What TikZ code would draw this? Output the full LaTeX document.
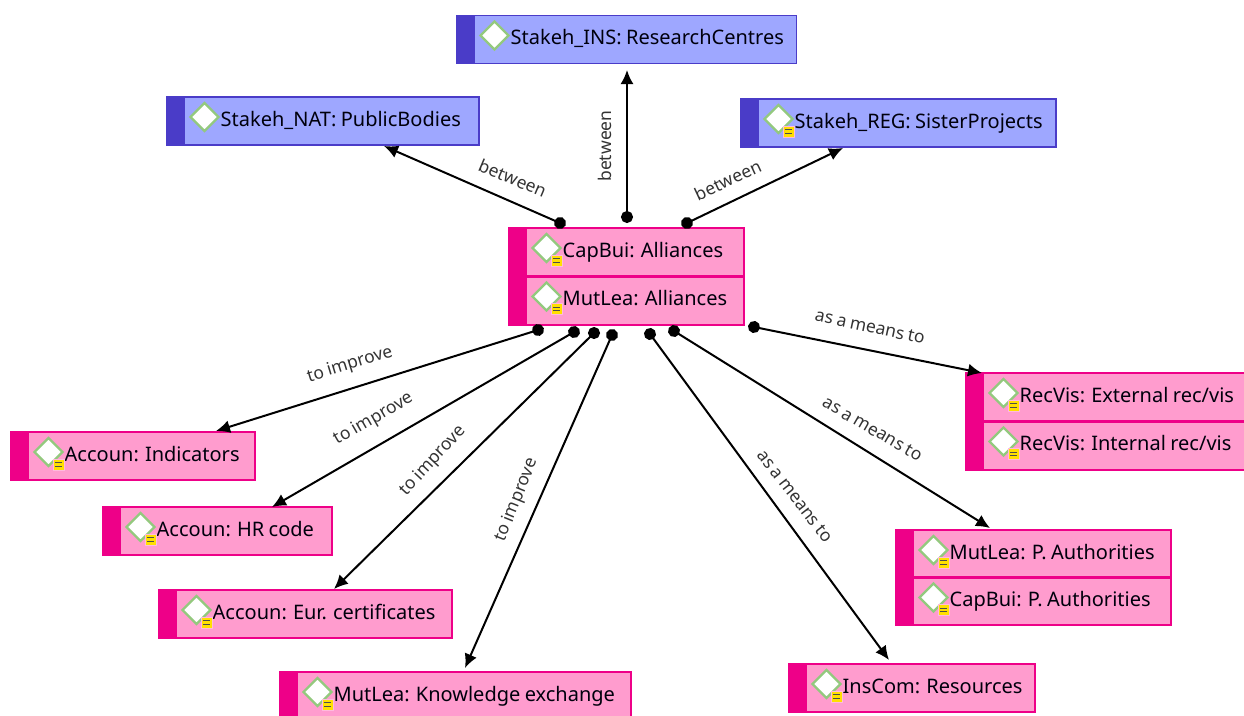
\documentclass[tikz,border=0pt]{standalone}
\usepackage{fontspec}
\setmainfont[WordSpace=0.85]{Noto Sans}
\usetikzlibrary{arrows.meta,shapes.geometric}
\definecolor{pinkfill}{HTML}{FF9CCE}
\definecolor{pinkbar}{HTML}{EE0088}
\definecolor{bluefill}{HTML}{9EA7FF}
\definecolor{bluebar}{HTML}{4A3CC8}
\definecolor{notey}{HTML}{FFE000}
\definecolor{greenb}{HTML}{93C97E}
\definecolor{lab}{HTML}{333333}
\tikzset{
  bodybox/.style={draw=#1bar,fill=#1fill,line width=1.8pt,rectangle,inner sep=0pt,outer sep=0pt,anchor=north west},
  barbox/.style={fill=#1bar,rectangle,inner sep=0pt,outer sep=0pt,anchor=north west},
  rowtext/.style={anchor=base west,inner sep=0pt,font=\fontsize{20}{24}\selectfont,text=black!95!blue},
  gem/.style={diamond,draw=greenb,fill=white,line width=2.4pt,minimum width=29pt,minimum height=29pt,inner sep=0pt,aspect=1},
  notebox/.style={fill=notey,draw=pinkfill!70!white,line width=.8pt,minimum size=11pt,inner sep=0pt},
  link/.style={draw=black,line width=2pt,{Circle[length=12pt,width=12pt]}-{Latex[length=14pt,width=13pt]},shorten <=-6pt},
  lbl/.style={font=\fontsize{17.5}{20}\selectfont,text=lab,inner sep=0pt},
  rowrule/.style={line width=3pt,draw=pinkbar},
}
% \rowbox{name}{bar x}{top}{right}{bottom}{colour}{text}
\newcommand{\rowbox}[7]{%
  \pgfmathsetlengthmacro{\ww}{(#4-#2)*1pt}%
  \pgfmathsetlengthmacro{\hh}{(#5-#3)*1pt}%
  \node[bodybox=#6,minimum width=\ww,minimum height=\hh] (#1) at (#2,#3) {};
  \node[gem] (#1gem) at (#2+20.5,#3+20) {};
  \node[rowtext] (#1txt) at (#2+36.5,#3+29) {#7};
}
\newcommand{\notemark}[1]{%
  \node[notebox] (#1note) at ([shift={(10,12.5)}]#1gem.center) {};
  \draw[black!70,line width=1.3pt] ([shift={(-3.2,-1.7)}]#1note.center) -- ([shift={(3.2,-1.7)}]#1note.center)
     ([shift={(-3.2,1.7)}]#1note.center) -- ([shift={(3.2,1.7)}]#1note.center);
}
% \sidebar{name}{x}{top}{bottom}{colour}
\newcommand{\sidebar}[5]{%
  \pgfmathsetlengthmacro{\hh}{(#4-#3)*1pt}%
  \node[barbox=#5,minimum width=18.5pt,minimum height=\hh] (#1) at (#2,#3) {};
}
\begin{document}
\begin{tikzpicture}[x=1pt,y=-1pt]
\useasboundingbox (0,0) rectangle (1244,715);
\clip (0,0) rectangle (1244,715);

% blue
\rowbox{ins}{474}{15.5}{796.5}{63.5}{blue}{Stakeh\_INS: ResearchCentres}
\sidebar{insbar}{455.5}{14.6}{64.4}{blue}
\rowbox{nat}{184}{97}{479}{145}{blue}{Stakeh\_NAT: PublicBodies}
\sidebar{natbar}{166}{96.1}{145.9}{blue}
\rowbox{reg}{758}{99}{1056}{147}{blue}{Stakeh\_REG: SisterProjects}
\sidebar{regbar}{739.5}{98.1}{147.9}{blue}
\notemark{reg}

% centre
\rowbox{cap}{526}{228}{744}{276.5}{pink}{CapBui: Alliances}
\rowbox{mut}{526}{276.5}{744}{325}{pink}{MutLea: Alliances}
\sidebar{cenbar}{508}{227.1}{325.9}{pink}
\draw[rowrule] (cap.south west) -- (cap.south east);
\notemark{cap}\notemark{mut}

% right
\rowbox{rece}{983}{373}{1250}{421.5}{pink}{RecVis: External rec/vis}
\rowbox{reci}{983}{421.5}{1250}{470}{pink}{RecVis: Internal rec/vis}
\sidebar{recbar}{965}{372.1}{470.9}{pink}
\draw[rowrule] (rece.south west) -- (rece.south east);
\notemark{rece}\notemark{reci}
\rowbox{mpa}{913}{530}{1171}{577.5}{pink}{MutLea: P. Authorities}
\rowbox{cpa}{913}{577.5}{1171}{625}{pink}{CapBui: P. Authorities}
\sidebar{pabar}{895}{529.1}{625.9}{pink}
\draw[rowrule] (mpa.south west) -- (mpa.south east);
\notemark{mpa}\notemark{cpa}
\rowbox{res}{806}{664}{1035}{712}{pink}{InsCom: Resources}
\sidebar{resbar}{788}{663.1}{712.9}{pink}
\notemark{res}

% left
\rowbox{ind}{28}{432}{255}{480}{pink}{Accoun: Indicators}
\sidebar{indbar}{10}{431.1}{480.9}{pink}
\notemark{ind}
\rowbox{hr}{120}{507}{332}{555}{pink}{Accoun: HR code}
\sidebar{hrbar}{102}{506.1}{555.9}{pink}
\notemark{hr}
\rowbox{eur}{176}{590}{452}{638}{pink}{Accoun: Eur. certificates}
\sidebar{eurbar}{158}{589.1}{638.9}{pink}
\notemark{eur}
\rowbox{kno}{297}{672}{631}{725}{pink}{MutLea: Knowledge exchange}
\sidebar{knobar}{279}{671.1}{725}{pink}
\notemark{kno}

% anchors
\coordinate (d1) at (560,223); \coordinate (e1) at (384,146);
\coordinate (d2) at (627,217); \coordinate (e2) at (627,70);
\coordinate (d3) at (687,223); \coordinate (e3) at (843,148);
\coordinate (d4) at (538,330); \coordinate (e4) at (216,431);
\coordinate (d5) at (574,332); \coordinate (e5) at (272,507);
\coordinate (d6) at (594,333); \coordinate (e6) at (334,589);
\coordinate (d7) at (612,335); \coordinate (e7) at (465,668);
\coordinate (d8) at (650,334); \coordinate (e8) at (889,660);
\coordinate (d9) at (674,331); \coordinate (e9) at (990,528);
\coordinate (d10) at (754,327); \coordinate (e10) at (982,373);
\foreach \i in {1,...,10} {\draw[link] (d\i) -- (e\i);}

% labels
\node[lbl,rotate=-23] (l1) at (513,178) {between};
\node[lbl,rotate=90] (l2) at (605,146) {between};
\node[lbl,rotate=25] (l3) at (728,180) {between};
\node[lbl,rotate=17] (l4) at (350,365) {to improve};
\node[lbl,rotate=30] (l5) at (374,419) {to improve};
\node[lbl,rotate=47] (l6) at (433,461) {to improve};
\node[lbl,rotate=68] (l7) at (517,500) {to improve};
\node[lbl,rotate=-12] (l8) at (870,327) {as a means to};
\node[lbl,rotate=-30] (l9) at (873,429) {as a means to};
\node[lbl,rotate=-52] (l10) at (795,496) {as a means to};
\end{tikzpicture}
\end{document}
